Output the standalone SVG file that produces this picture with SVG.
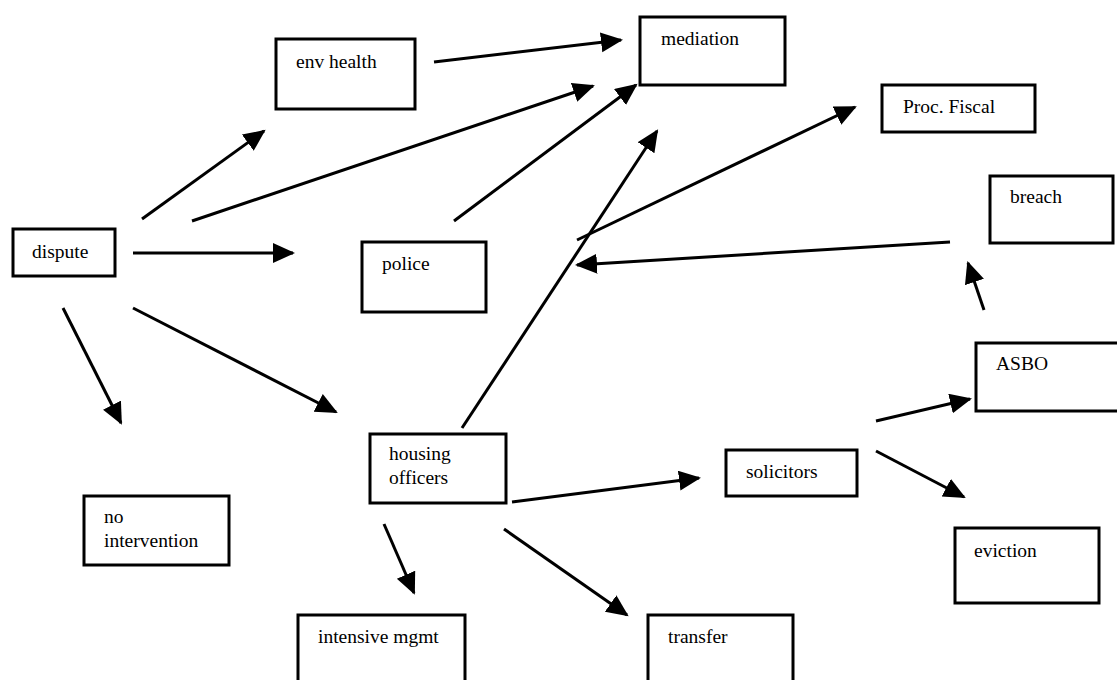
<svg xmlns="http://www.w3.org/2000/svg" width="1117" height="680" viewBox="0 0 1117 680">
<style>
.box{fill:#fff;stroke:#000;stroke-width:3}
.t{font-family:"Liberation Serif","Times New Roman",serif;font-size:19.5px;fill:#000}
.c{stroke:#000;stroke-width:3;fill:none;marker-end:url(#ah)}
</style>
<defs>
<marker id="ah" markerUnits="userSpaceOnUse" markerWidth="24" markerHeight="22" refX="20" refY="10" orient="auto">
<path d="M0,0 L22,10 L0,20 Z" fill="#000"/>
</marker>
</defs>
<rect width="1117" height="680" fill="#fff"/>
<g id="connectors">
<line class="c" x1="434" y1="62" x2="621" y2="40"/>
<line class="c" x1="142" y1="219" x2="264" y2="131"/>
<line class="c" x1="192" y1="221" x2="593" y2="86"/>
<line class="c" x1="454" y1="221" x2="636" y2="85"/>
<line class="c" x1="133" y1="253" x2="293" y2="253"/>
<line class="c" x1="462" y1="428" x2="657" y2="131"/>
<line class="c" x1="577" y1="240" x2="855" y2="107"/>
<line class="c" x1="950" y1="242" x2="577" y2="265"/>
<line class="c" x1="984" y1="310" x2="968" y2="263"/>
<line class="c" x1="63" y1="308" x2="121" y2="423"/>
<line class="c" x1="133" y1="308" x2="336" y2="412"/>
<line class="c" x1="384" y1="524" x2="414" y2="593"/>
<line class="c" x1="512" y1="502" x2="699" y2="478"/>
<line class="c" x1="504" y1="529" x2="627" y2="615"/>
<line class="c" x1="876" y1="421" x2="970" y2="399"/>
<line class="c" x1="876" y1="451" x2="964" y2="497"/>
</g>
<g id="dispute"><rect class="box" x="13" y="229" width="102" height="47"/><text class="t" x="32" y="258">dispute</text></g>
<g id="env-health"><rect class="box" x="276" y="39" width="139" height="70"/><text class="t" x="296" y="68">env health</text></g>
<g id="mediation"><rect class="box" x="640" y="17" width="145" height="68"/><text class="t" x="661" y="45">mediation</text></g>
<g id="police"><rect class="box" x="362" y="242" width="124" height="70"/><text class="t" x="382" y="270">police</text></g>
<g id="proc-fiscal"><rect class="box" x="882" y="85" width="153" height="47"/><text class="t" x="903" y="113">Proc. Fiscal</text></g>
<g id="breach"><rect class="box" x="990" y="176" width="123" height="67"/><text class="t" x="1010" y="203">breach</text></g>
<g id="no-intervention"><rect class="box" x="84" y="496" width="145" height="69"/><text class="t" x="104" y="523">no</text><text class="t" x="104" y="547">intervention</text></g>
<g id="housing-officers"><rect class="box" x="370" y="434" width="136" height="69"/><text class="t" x="389" y="460">housing</text><text class="t" x="389" y="484">officers</text></g>
<g id="intensive-mgmt"><rect class="box" x="298" y="615" width="167" height="72"/><text class="t" x="318" y="643">intensive mgmt</text></g>
<g id="solicitors"><rect class="box" x="726" y="450" width="131" height="46"/><text class="t" x="746" y="478">solicitors</text></g>
<g id="transfer"><rect class="box" x="648" y="615" width="145" height="72"/><text class="t" x="668" y="643">transfer</text></g>
<g id="asbo"><rect class="box" x="976" y="343" width="144" height="68"/><text class="t" x="996" y="370">ASBO</text></g>
<g id="eviction"><rect class="box" x="955" y="528" width="144" height="75"/><text class="t" x="974" y="557">eviction</text></g>
</svg>
